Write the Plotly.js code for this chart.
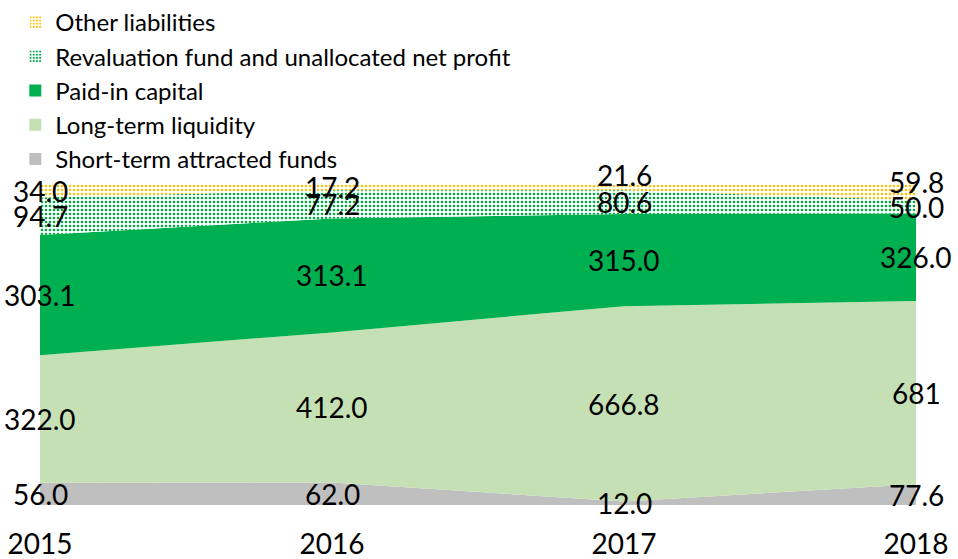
<!DOCTYPE html>
<html>
<head>
<meta charset="utf-8">
<script src="https://cdn.plot.ly/plotly-3.0.1.min.js"></script>
<style>html,body{margin:0;padding:0;background:#fff;}#chart{width:958px;height:559px;}</style>
</head>
<body>
<div id="chart"></div>
<script>
// ---- data ----
const years = [2015, 2016, 2017, 2018];
const seriesNames = ["Short-term attracted funds", "Long-term liquidity", "Paid-in capital",
                     "Revaluation fund and unallocated net profit", "Other liabilities"];
const shortTerm   = [56.0, 62.0, 12.0, 77.6];
const longTerm    = [322.0, 412.0, 666.8, 681];
const paidIn      = [303.1, 313.1, 315.0, 326.0];
const revaluation = [94.7, 77.2, 80.6, 50.0];
const otherLiab   = [34.0, 17.2, 21.6, 59.8];
const shortTermLabels   = ["56.0", "62.0", "12.0", "77.6"];
const longTermLabels    = ["322.0", "412.0", "666.8", "681"];
const paidInLabels      = ["303.1", "313.1", "315.0", "326.0"];
const revaluationLabels = ["94.7", "77.2", "80.6", "50.0"];
const otherLiabLabels   = ["34.0", "17.2", "21.6", "59.8"];
const yearLabels = ["2015", "2016", "2017", "2018"];

// ---- styles ----
const FONT = "Lato, 'Open Sans', sans-serif";
const series = [shortTerm, longTerm, paidIn, revaluation, otherLiab];
const labels = [shortTermLabels, longTermLabels, paidInLabels, revaluationLabels, otherLiabLabels];
const colors = ["#BFBFBF", "#C5E0B4", "#00B050", "#00B050", "#FFC000"];
const patterns = [null, null, null,
  {shape: ".", fgcolor: "#00A84A", bgcolor: "#ffffff", size: 4, solidity: 0.35},
  {shape: ".", fgcolor: "#FFC000", bgcolor: "#ffffff", size: 4, solidity: 0.3}];

const traces = [];
series.forEach((vals, i) => {
  const t = {
    type: "scatter", x: years, y: vals, name: seriesNames[i],
    mode: "lines", line: {width: 0, shape: "linear"},
    stackgroup: "one", groupnorm: "percent",
    fillcolor: colors[i], showlegend: false, hoverinfo: "skip"
  };
  if (patterns[i]) t.fillpattern = patterns[i];
  traces.push(t);
});

// legend proxies (top to bottom), zero-height bars on a hidden overlay axis
for (let i = series.length - 1; i >= 0; i--) {
  const m = {color: patterns[i] ? "#ffffff" : colors[i], line: {width: 0}};
  if (patterns[i]) m.pattern = patterns[i];
  traces.push({type: "bar", x: [years[0]], y: [0], name: seriesNames[i], marker: m,
               xaxis: "x2", yaxis: "y2",
               legendgroup: "g" + i, showlegend: true, hoverinfo: "skip"});
}

// labels centred in each band (percent scale)
const totals = years.map((_, j) => series.reduce((s, v) => s + v[j], 0));
const shifts = {"4-2": 12, "4-3": 10};
const annotations = [];
years.forEach((yr, j) => {
  let cum = 0;
  series.forEach((vals, i) => {
    const pct = vals[j] / totals[j] * 100;
    annotations.push({
      x: yr, y: cum + pct / 2, xref: "x", yref: "y", text: labels[i][j],
      showarrow: false, xanchor: "center", yanchor: "middle",
      yshift: shifts[i + "-" + j] || 0,
      font: {family: FONT, size: 28, color: "#000000"}
    });
    cum += pct;
  });
});

const layout = {
  width: 958, height: 559,
  margin: {l: 40, r: 42, t: 184, b: 54, pad: 0, autoexpand: false},
  paper_bgcolor: "#ffffff", plot_bgcolor: "rgba(0,0,0,0)",
  font: {family: FONT, color: "#000000"},
  showlegend: true,
  legend: {
    xref: "container", yref: "container", x: 0.016, y: 1.0, xanchor: "left", yanchor: "top",
    traceorder: "grouped", tracegroupgap: 0, itemwidth: 30,
    font: {family: FONT, size: 24, color: "#000000"}, bgcolor: "rgba(0,0,0,0)"
  },
  xaxis: {
    type: "linear", range: [2015, 2018], tickvals: years, ticktext: yearLabels,
    showgrid: false, zeroline: false, showline: false, ticks: "",
    ticklabelstandoff: 20, tickfont: {family: FONT, size: 28, color: "#000000"}
  },
  yaxis: {
    type: "linear", range: [0, 100], visible: false, showgrid: false, zeroline: false
  },
  xaxis2: {overlaying: "x", visible: false, range: [0, 1], type: "linear"},
  yaxis2: {overlaying: "y", visible: false, range: [10, 20], type: "linear"},
  annotations: annotations
};

Plotly.newPlot("chart", traces, layout, {displayModeBar: false, staticPlot: true});
</script>
</body>
</html>
